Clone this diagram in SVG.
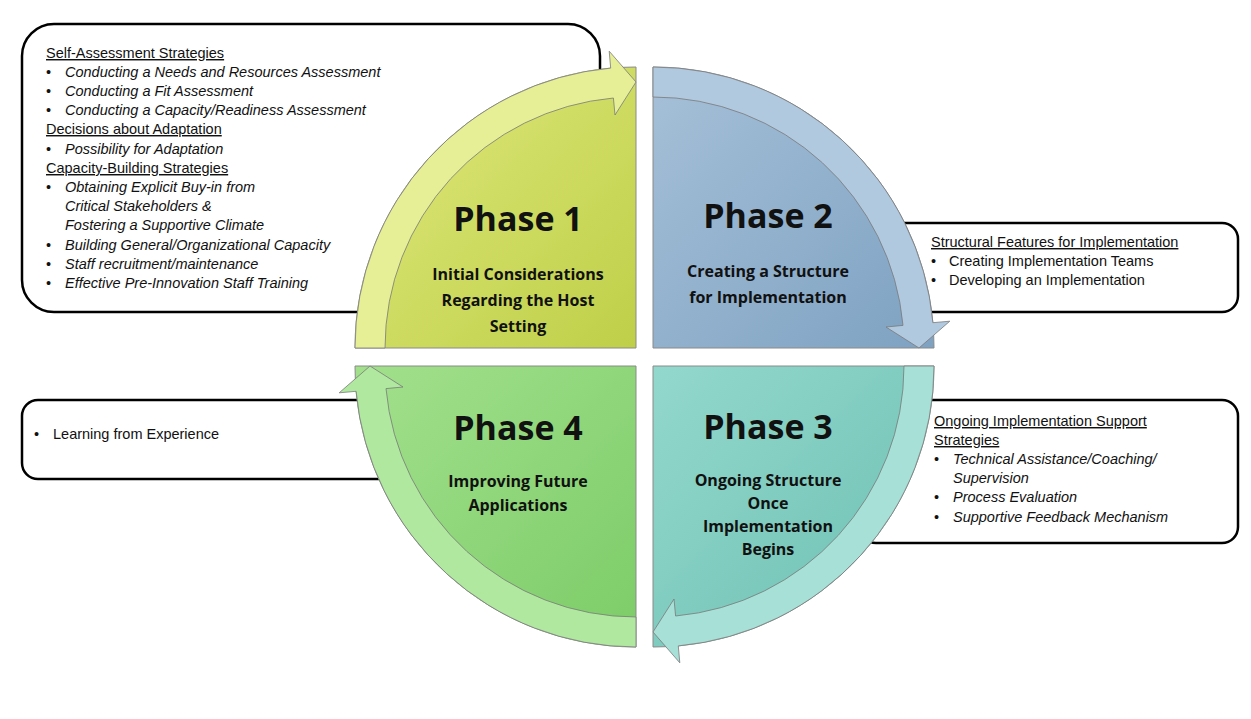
<svg xmlns="http://www.w3.org/2000/svg" width="1251" height="719" viewBox="0 0 1251 719">
<defs>
<style>
.box{fill:#fff;stroke:#000;stroke-width:2.5}
.t{font-family:"Liberation Sans",Arial,sans-serif;font-size:14.5px;fill:#111}
.i{font-style:italic}
.u{text-decoration:underline}
.ph{font-family:"Open Sans","DejaVu Sans",sans-serif;font-weight:bold;font-size:34px;fill:#111;text-anchor:middle}
.sub{font-family:"Open Sans","DejaVu Sans",sans-serif;font-weight:bold;font-size:16px;fill:#111;text-anchor:middle}
.q{stroke:#8a8a8a;stroke-width:1}
.band{stroke:#7a7a7a;stroke-width:0.8}
</style>
<linearGradient id="g1" x1="0" y1="0" x2="1" y2="1"><stop offset="0" stop-color="#dfe97e"/><stop offset="1" stop-color="#bfcf48"/></linearGradient>
<linearGradient id="g2" x1="0" y1="0" x2="1" y2="1"><stop offset="0" stop-color="#a6c0d8"/><stop offset="1" stop-color="#7ea2c2"/></linearGradient>
<linearGradient id="g3" x1="0" y1="0" x2="1" y2="1"><stop offset="0" stop-color="#93d8cc"/><stop offset="1" stop-color="#6cbfb2"/></linearGradient>
<linearGradient id="g4" x1="0" y1="0" x2="1" y2="1"><stop offset="0" stop-color="#a2e08c"/><stop offset="1" stop-color="#7ccc68"/></linearGradient>
</defs>
<rect width="1251" height="719" fill="#fff"/>
<g id="boxes">
<rect id="box1" class="box" x="22" y="24" width="578" height="288" rx="32"/>
<rect id="box2" class="box" x="860" y="223" width="378" height="89" rx="16"/>
<rect id="box3" class="box" x="22" y="400" width="380" height="79" rx="16"/>
<rect id="box4" class="box" x="860" y="400" width="378" height="143" rx="16"/>
</g>
<g id="phase1">
<path class="q" fill="url(#g1)" d="M636,348 L355,348 A281 281 0 0 1 636,67 Z"/>
<path class="band" fill="#e6ef96" d="M355,348 A281 281 0 0 1 610.7,68.1 L609.2,51.2 L636,82 L615,115 L613.4,98 A251 251 0 0 0 385,348 Z"/>
<text class="ph" x="518" y="231">Phase 1</text>
<text class="sub" x="518" y="280">Initial Considerations</text>
<text class="sub" x="518" y="306">Regarding the Host</text>
<text class="sub" x="518" y="332">Setting</text>
</g>
<g id="phase2">
<path class="q" fill="url(#g2)" d="M653,348 L653,67 A281 281 0 0 1 934,348 Z"/>
<path class="band" fill="#b0c9df" d="M653,67 A281 281 0 0 1 932.9,322.7 L949.8,321.2 L919,348 L886,327 L903,325.4 A251 251 0 0 0 653,97 Z"/>
<text class="ph" x="768" y="228">Phase 2</text>
<text class="sub" x="768" y="277">Creating a Structure</text>
<text class="sub" x="768" y="303">for Implementation</text>
</g>
<g id="phase3">
<path class="q" fill="url(#g3)" d="M653,366 L934,366 A281 281 0 0 1 653,647 Z"/>
<path class="band" fill="#a6e0d6" d="M934,366 A281 281 0 0 1 678.3,645.9 L679.8,662.8 L653,632 L674,599 L675.6,616 A251 251 0 0 0 904,366 Z"/>
<text class="ph" x="768" y="439">Phase 3</text>
<text class="sub" x="768" y="486">Ongoing Structure</text>
<text class="sub" x="768" y="509">Once</text>
<text class="sub" x="768" y="532">Implementation</text>
<text class="sub" x="768" y="555">Begins</text>
</g>
<g id="phase4">
<path class="q" fill="url(#g4)" d="M636,366 L636,647 A281 281 0 0 1 355,366 Z"/>
<path class="band" fill="#b0e8a0" d="M636,647 A281 281 0 0 1 356.1,391.3 L339.2,392.8 L370,366 L403,387 L386,388.6 A251 251 0 0 0 636,617 Z"/>
<text class="ph" x="518" y="440">Phase 4</text>
<text class="sub" x="518" y="487">Improving Future</text>
<text class="sub" x="518" y="511">Applications</text>
</g>
<g id="text1" class="t">
<text class="t u" x="46" y="58">Self-Assessment Strategies</text>
<text class="t" x="46" y="77">•</text><text class="t i" x="65" y="77">Conducting a Needs and Resources Assessment</text>
<text class="t" x="46" y="96">•</text><text class="t i" x="65" y="96">Conducting a Fit Assessment</text>
<text class="t" x="46" y="115">•</text><text class="t i" x="65" y="115">Conducting a Capacity/Readiness Assessment</text>
<text class="t u" x="46" y="134">Decisions about Adaptation</text>
<text class="t" x="46" y="154">•</text><text class="t i" x="65" y="154">Possibility for Adaptation</text>
<text class="t u" x="46" y="173">Capacity-Building Strategies</text>
<text class="t" x="46" y="192">•</text><text class="t i" x="65" y="192">Obtaining Explicit Buy-in from</text>
<text class="t i" x="65" y="211">Critical Stakeholders &amp;</text>
<text class="t i" x="65" y="230">Fostering a Supportive Climate</text>
<text class="t" x="46" y="250">•</text><text class="t i" x="65" y="250">Building General/Organizational Capacity</text>
<text class="t" x="46" y="269">•</text><text class="t i" x="65" y="269">Staff recruitment/maintenance</text>
<text class="t" x="46" y="288">•</text><text class="t i" x="65" y="288">Effective Pre-Innovation Staff Training</text>
</g>
<g id="text2">
<text class="t u" x="931" y="247">Structural  Features for Implementation</text>
<text class="t" x="931" y="266">•</text><text class="t" x="949" y="266">Creating Implementation Teams</text>
<text class="t" x="931" y="285">•</text><text class="t" x="949" y="285">Developing an Implementation</text>
</g>
<g id="text3">
<text class="t" x="34" y="439">•</text><text class="t" x="53" y="439">Learning from Experience</text>
</g>
<g id="text4">
<text class="t u" x="934" y="426">Ongoing Implementation  Support</text>
<text class="t u" x="934" y="445">Strategies</text>
<text class="t" x="934" y="464">•</text><text class="t i" x="953" y="464">Technical Assistance/Coaching/</text>
<text class="t i" x="953" y="483">Supervision</text>
<text class="t" x="934" y="502">•</text><text class="t i" x="953" y="502">Process Evaluation</text>
<text class="t" x="934" y="522">•</text><text class="t i" x="953" y="522">Supportive Feedback Mechanism</text>
</g>
</svg>
